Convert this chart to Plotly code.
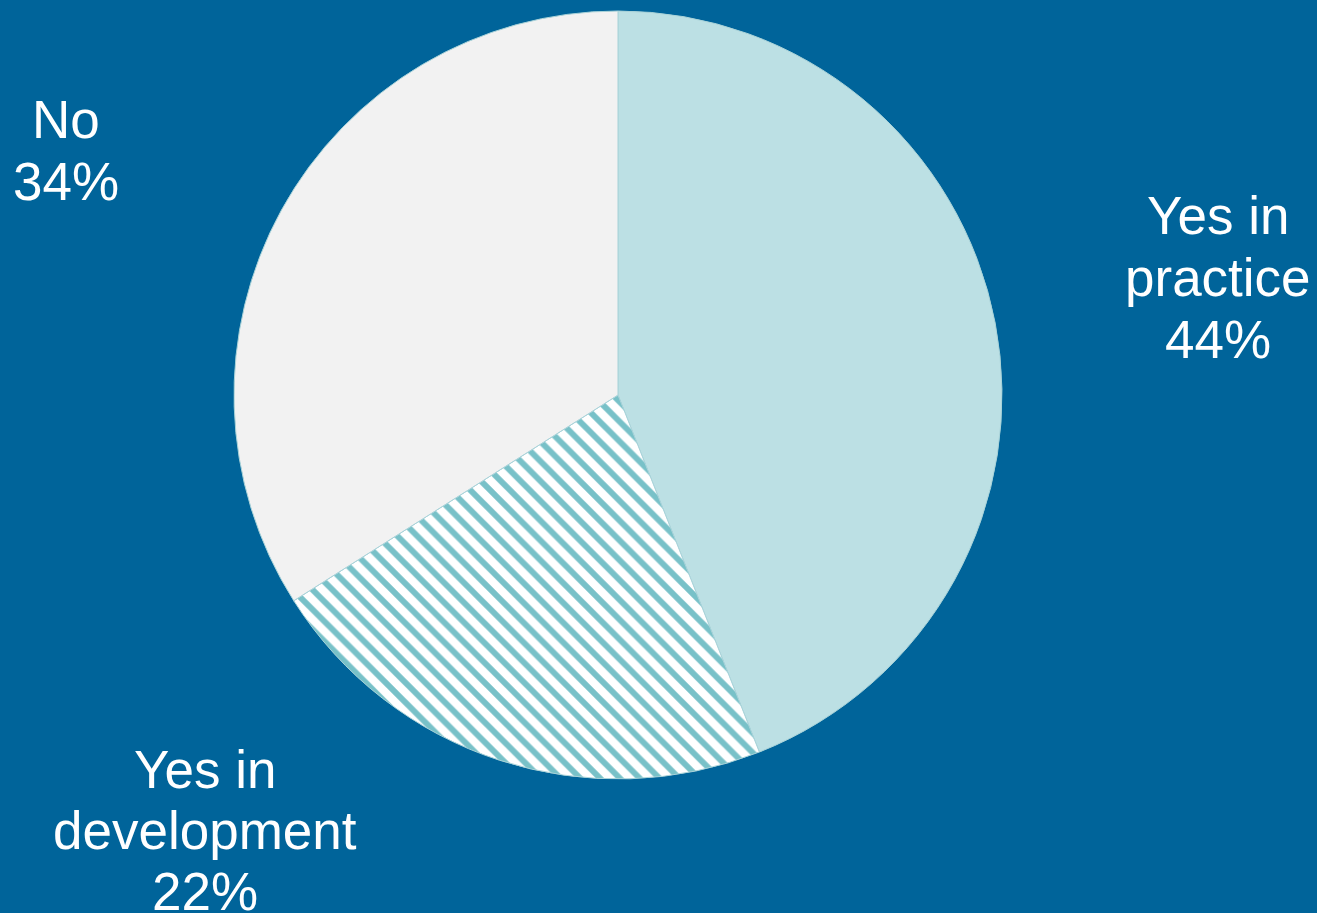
import plotly.graph_objects as go

labels = ["Yes in practice", "Yes in development", "No"]
values = [44, 22, 34]
label_lines = [["Yes in", "practice", "44%"], ["Yes in", "development", "22%"], ["No", "34%"]]
slice_colors = ["#BCE0E4", "#FFFFFF", "#F2F2F2"]
pattern_shapes = ["", "\\", ""]

W, H = 1317, 913
BG = "#00649A"

fig = go.Figure(go.Pie(
    labels=labels,
    values=values,
    sort=False,
    direction="clockwise",
    rotation=0,
    textinfo="none",
    hoverinfo="none",
    showlegend=False,
    marker=dict(
        colors=slice_colors,
        line=dict(color="#A9D3D9", width=1),
        pattern=dict(shape=pattern_shapes, fgcolor="#78C1C8", bgcolor="#FFFFFF",
                     size=14, solidity=0.42, fillmode="replace"),
    ),
    domain=dict(x=[(618 - 384) / W, (618 + 384) / W],
                y=[1 - (395 + 384) / H, 1 - (395 - 384) / H]),
))

# label positions (pixel centres of each text block line)
label_pos = [(1218, [216, 277, 339]), (205, [769, 830, 891]), (66, [119, 181])]
annotations = []
for lines, (cx, ys) in zip(label_lines, label_pos):
    for line, cy in zip(lines, ys):
        annotations.append(dict(
            text=line, x=cx / W, y=1 - cy / H, xref="paper", yref="paper",
            xanchor="center", yanchor="middle", showarrow=False,
            font=dict(family="Liberation Sans, Arial, sans-serif", size=53, color="#FFFFFF"),
        ))

fig.update_layout(
    width=W, height=H,
    margin=dict(l=0, r=0, t=0, b=0),
    paper_bgcolor=BG, plot_bgcolor=BG,
    annotations=annotations,
)

fig.write_html("out.html")
